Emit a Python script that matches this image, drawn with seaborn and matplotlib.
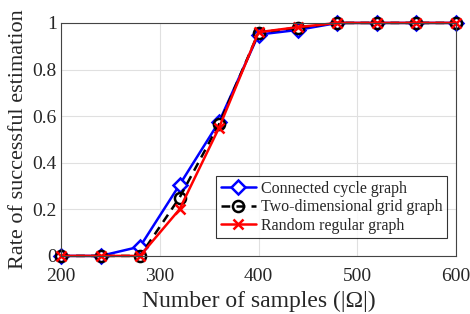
import matplotlib
matplotlib.use("Agg")
import matplotlib.pyplot as plt
import seaborn as sns
import pandas as pd

samples = [200, 240, 280, 320, 360, 400, 440, 480, 520, 560, 600]
cycle = [0, 0, 0.04, 0.305, 0.575, 0.95, 0.97, 1, 1, 1, 1]
grid2d = [0, 0, 0, 0.25, 0.565, 0.958, 0.98, 1, 1, 1, 1]
regular = [0, 0, 0, 0.2, 0.55, 0.96, 0.982, 1, 1, 1, 1]
labels = ["Connected cycle graph", "Two-dimensional grid graph", "Random regular graph"]

sns.set_style("white")
plt.rcParams['font.family'] = ['Liberation Serif', 'DejaVu Serif']

fig = plt.figure(figsize=(4.7, 3.14), dpi=100)
ax = fig.add_axes([0.13, 0.185, 0.84, 0.742])

rows = []
for ys, lab in zip([cycle, grid2d, regular], labels):
    for x, y in zip(samples, ys):
        rows.append({"x": x, "y": y, "graph": lab})
df = pd.DataFrame(rows)

palette = dict(zip(labels, ["#0000ff", "black", "#ff0000"]))
markers = dict(zip(labels, ["D", "o", "s"]))
dashes = dict(zip(labels, ["", (3.5, 2.5), ""]))
sns.lineplot(data=df, x="x", y="y", hue="graph", style="graph", hue_order=labels,
             style_order=labels, palette=palette, markers=markers, dashes=dashes,
             linewidth=1.8, ax=ax, legend=False)

msizes = [7, 8, 7.5]
faces = ["white", "none", "#ff0000"]
final_markers = ["D", "o", "x"]
for line, ms, fc, mk in zip(ax.lines[:3], msizes, faces, final_markers):
    line.set_marker(mk)
    line.set_markersize(ms)
    line.set_markerfacecolor(fc)
    line.set_markeredgecolor(line.get_color())
    line.set_markeredgewidth(1.8)
    line.set_clip_on(False)

ax.set_xlim(200, 600)
ax.set_ylim(0, 1)
ax.set_xticks([200, 300, 400, 500, 600])
ax.set_yticks([0, 0.2, 0.4, 0.6, 0.8, 1])
ax.set_yticklabels(["0", "0.2", "0.4", "0.6", "0.8", "1"])
ax.grid(True, color="#e0e0e0", linewidth=0.8)
ax.tick_params(direction="in", labelsize=14, length=4, color="#444444", pad=3)
ax.tick_params(axis="x", pad=9)
for s in ax.spines.values():
    s.set_color("#444444")
    s.set_linewidth(0.8)
ax.set_xlabel("Number of samples (|Ω|)", fontsize=17, labelpad=4)
ax.set_ylabel("Rate of successful estimation", fontsize=16, labelpad=3)
leg = ax.legend(ax.lines[:3], labels, loc="lower right", bbox_to_anchor=(0.978, 0.075),
                fontsize=11.5, frameon=True, fancybox=False, edgecolor="black",
                handlelength=2.2, borderpad=0.3, labelspacing=0.15, handletextpad=0.3,
                borderaxespad=0)
leg.get_frame().set_linewidth(0.8)
fig.savefig("out.png", dpi=100)
